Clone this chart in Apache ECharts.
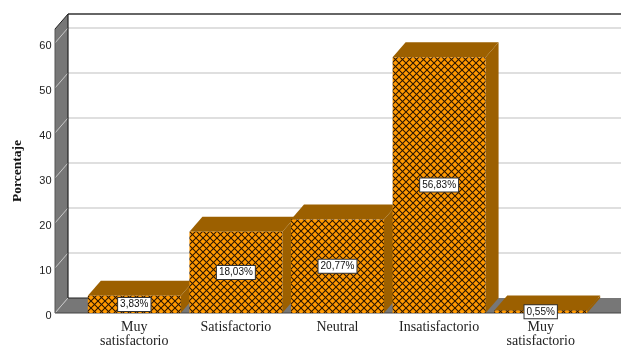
<!DOCTYPE html>
<html>
<head>
<meta charset="utf-8">
<style>html,body{margin:0;padding:0;background:#fff}#c{width:621px;height:345px}</style>
<script src="https://cdn.jsdelivr.net/npm/echarts@6/dist/echarts.min.js"></script>
</head>
<body>
<div id="c"></div>
<script>
// Satisfaction survey results as a pseudo-3D bar chart.
const categories = ['Muy\nsatisfactorio', 'Satisfactorio', 'Neutral', 'Insatisfactorio', 'Muy\nsatisfactorio'];
const percentages = [3.83, 18.03, 20.77, 56.83, 0.55];
const ticks = [0, 10, 20, 30, 40, 50, 60];
const axisTitle = 'Porcentaje';

const DEPTH_X = 13, DEPTH_Y = 15;   // oblique projection of the depth axis
const WALL = '#777777', SHADE = '#9C6000', FACE = '#FF9900';
const AXIS_MAX = 63.1;

// Cross-hatch tile for the bar fronts
function hatchTile() {
  const s = 7, cv = document.createElement('canvas');
  cv.width = cv.height = s;
  const g = cv.getContext('2d');
  g.fillStyle = FACE; g.fillRect(0, 0, s, s);
  g.strokeStyle = '#2a1500'; g.lineWidth = 1.05;
  [[-1, -1, s + 1, s + 1], [-1, s + 1, s + 1, -1]].forEach(l => {
    g.beginPath(); g.moveTo(l[0], l[1]); g.lineTo(l[2], l[3]); g.stroke();
  });
  return cv;
}
const tile = hatchTile();

const poly = (points, fill, z2) => ({
  type: 'polygon', shape: { points }, style: { fill }, z2: z2 || 0
});
const seg = (x1, y1, x2, y2, stroke, lineWidth) => ({
  type: 'line', shape: { x1, y1, x2, y2 }, style: { stroke, lineWidth }
});

// Side wall, floor, back wall rules: extents follow the grid rectangle
function renderRoom(params, api) {
  const cs = params.coordSys;
  const L = cs.x - 28.5, R = cs.x + cs.width + 30;
  const y0 = api.coord([0, 0])[1], yT = cs.y;
  const kids = [
    poly([[L, y0], [L + DEPTH_X, y0 - DEPTH_Y], [L + DEPTH_X, yT - DEPTH_Y], [L, yT]], WALL),
    poly([[L, y0], [L + DEPTH_X, y0 - DEPTH_Y], [R + DEPTH_X, y0 - DEPTH_Y], [R, y0]], WALL)
  ];
  ticks.forEach(t => {
    if (t === 0) return;
    const y = api.coord([0, t])[1];
    kids.push(seg(L, y, L + DEPTH_X, y - DEPTH_Y, '#c8c8c8', 1));
    kids.push(seg(L + DEPTH_X, y - DEPTH_Y, R + DEPTH_X, y - DEPTH_Y, '#d4d4d4', 1.5));
  });
  kids.push(seg(L, y0, L + DEPTH_X, y0 - DEPTH_Y, '#c8c8c8', 1));
  kids.push(seg(L + DEPTH_X, yT - DEPTH_Y, R + DEPTH_X, yT - DEPTH_Y, '#333', 1.5));
  kids.push(seg(L + DEPTH_X, yT - DEPTH_Y, L + DEPTH_X, y0 - DEPTH_Y, '#222', 1.2));
  kids.push(seg(L + DEPTH_X, y0 - DEPTH_Y, L + 33, y0 - DEPTH_Y, '#222', 1));
  kids.push(seg(L, yT, L + DEPTH_X, yT - DEPTH_Y, '#222', 1));
  kids.push(seg(L, yT, L, y0, '#555', 1));
  kids.push(seg(L, y0, R, y0, '#444', 1));
  return { type: 'group', children: kids };
}

// One bar: hatched front, shaded top and side
function renderBar(params, api) {
  const i = api.value(0), v = api.value(1);
  const top = api.coord([i, v]), base = api.coord([i, 0]);
  const w = api.size([1, 0])[0] * 0.915;
  const x0 = top[0] - w / 2, x1 = top[0] + w / 2, yT = top[1], yB = base[1];
  return {
    type: 'group',
    children: [
      poly([[x0, yT], [x0 + DEPTH_X, yT - DEPTH_Y], [x1 + DEPTH_X, yT - DEPTH_Y], [x1, yT]], SHADE),
      poly([[x1, yT], [x1 + DEPTH_X, yT - DEPTH_Y], [x1 + DEPTH_X, yB - DEPTH_Y], [x1, yB]], SHADE),
      {
        type: 'rect',
        shape: { x: x0, y: yT, width: w, height: yB - yT },
        style: { fill: { image: tile, repeat: 'repeat' } }
      }
    ]
  };
}

// Boxed value label centred on the bar front
function renderLabel(params, api) {
  const i = api.value(0), v = api.value(1);
  const top = api.coord([i, v]), base = api.coord([i, 0]);
  return {
    type: 'text',
    x: top[0], y: (top[1] + base[1]) / 2,
    style: {
      text: v.toFixed(2).replace('.', ',') + '%',
      align: 'center', verticalAlign: 'middle',
      font: '10px "Liberation Sans", Arial, sans-serif', fill: '#111',
      backgroundColor: '#fff', borderColor: '#333', borderWidth: 1,
      padding: [2, 2, 1, 2]
    }
  };
}

const barData = percentages.map((v, i) => [i, v]);

const chart = echarts.init(document.getElementById('c'), null, { renderer: 'canvas' });
chart.setOption({
  animation: false,
  backgroundColor: '#fff',
  grid: { left: 83.5, top: 29, width: 508, bottom: 32, outerBoundsMode: 'none' },
  xAxis: {
    type: 'category', data: categories,
    axisLine: { show: false }, axisTick: { show: false },
    axisLabel: {
      interval: 0, margin: 8, lineHeight: 13.5,
      fontFamily: '"Liberation Serif", "Times New Roman", serif', fontSize: 14, color: '#222'
    }
  },
  yAxis: {
    type: 'value', min: 0, max: AXIS_MAX, interval: 10,
    name: axisTitle, nameLocation: 'middle', nameGap: 59,
    nameTextStyle: {
      fontFamily: '"Liberation Serif", "Times New Roman", serif', fontSize: 13.5, fontWeight: 'bold', color: '#111'
    },
    splitLine: { show: false }, axisLine: { show: false }, axisTick: { show: false },
    axisLabel: {
      margin: 32, color: '#222', fontSize: 11, verticalAlign: 'top', lineHeight: 6,
      fontFamily: '"Liberation Sans", Arial, sans-serif',
      formatter: v => ticks.includes(v) ? String(v) : ''
    }
  },
  series: [
    { type: 'custom', clip: false, z: 1, renderItem: renderRoom, data: [[0, 0]], silent: true },
    { type: 'custom', clip: false, z: 2, renderItem: renderBar, data: barData, encode: { x: 0, y: 1 } },
    { type: 'custom', clip: false, z: 3, renderItem: renderLabel, data: barData, encode: { x: 0, y: 1 } }
  ]
});
</script>
</body>
</html>
